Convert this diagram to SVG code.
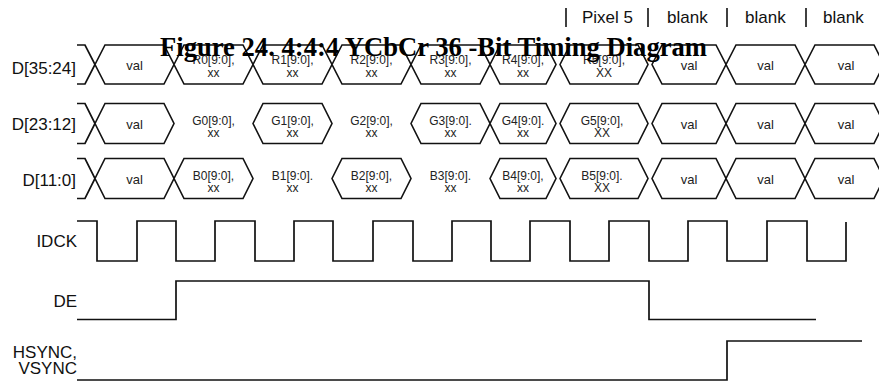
<svg xmlns="http://www.w3.org/2000/svg" width="879" height="381" viewBox="0 0 879 381">
<style>
.w{fill:none;stroke:#111;stroke-width:1.7;stroke-linejoin:miter}
.hx{fill:#fff;stroke:#111;stroke-width:1.6}
.lb{font-family:"Liberation Sans",Arial,sans-serif;font-size:17px;fill:#111;text-anchor:end}
.d{font-family:"Liberation Sans",Arial,sans-serif;font-size:12px;fill:#222;text-anchor:middle}
.v{font-family:"Liberation Sans",Arial,sans-serif;font-size:13px;fill:#222;text-anchor:middle}
.hd{font-family:"Liberation Sans",Arial,sans-serif;font-size:17px;fill:#111}
.bar{stroke:#111;stroke-width:1.6}
.ttl{font-family:"Liberation Serif","Times New Roman",serif;font-size:26.5px;font-weight:bold;fill:#000}
</style>

<g id="header">
<line class="bar" x1="566" y1="8" x2="566" y2="27"/>
<line class="bar" x1="648" y1="8" x2="648" y2="27"/>
<line class="bar" x1="727" y1="8" x2="727" y2="27"/>
<line class="bar" x1="806" y1="8" x2="806" y2="27"/>
<text class="hd" x="582" y="22.5">Pixel 5</text>
<text class="hd" x="667" y="22.5">blank</text>
<text class="hd" x="745" y="22.5">blank</text>
<text class="hd" x="823" y="22.5">blank</text>
</g>

<g id="d35_24">
<text class="lb" x="76" y="74">D[35:24]</text>
<polyline class="w" points="77,45 85,45 95,64.5 85,84 77,84"/>
<path class="hx" d="M95,64.5 L105,45 L164,45 L174,64.5 L164,84 L105,84 Z"/>
<path class="hx" d="M174,64.5 L184,45 L243,45 L253,64.5 L243,84 L184,84 Z"/>
<path class="hx" d="M253,64.5 L263,45 L322,45 L332,64.5 L322,84 L263,84 Z"/>
<path class="hx" d="M332,64.5 L342,45 L401,45 L411,64.5 L401,84 L342,84 Z"/>
<path class="hx" d="M411,64.5 L421,45 L480,45 L490,64.5 L480,84 L421,84 Z"/>
<path class="hx" d="M490,64.5 L500,45 L546,45 L556,64.5 L546,84 L500,84 Z"/>
<path class="hx" d="M560,64.5 L570,45 L638,45 L648,64.5 L638,84 L570,84 Z"/>
<path class="hx" d="M652,64.5 L662,45 L716,45 L726,64.5 L716,84 L662,84 Z"/>
<path class="hx" d="M726,64.5 L736,45 L795,45 L805,64.5 L795,84 L736,84 Z"/>
<path class="hx" d="M805,64.5 L815,45 L874,45 L884,64.5 L874,84 L815,84 Z"/>
<text class="v" x="134.5" y="69.5">val</text>
<text class="d" x="213.5" y="64">R0[9:0],</text><text class="d" x="213.5" y="77">xx</text>
<text class="d" x="292.5" y="64">R1[9:0],</text><text class="d" x="292.5" y="77">xx</text>
<text class="d" x="371.5" y="64">R2[9:0],</text><text class="d" x="371.5" y="77">xx</text>
<text class="d" x="450.5" y="64">R3[9:0],</text><text class="d" x="450.5" y="77">xx</text>
<text class="d" x="523" y="64">R4[9:0],</text><text class="d" x="523" y="77">xx</text>
<text class="d" x="604" y="64">R5[9:0],</text><text class="d" x="604" y="77">XX</text>
<text class="v" x="689" y="69.5">val</text>
<text class="v" x="765.5" y="69.5">val</text>
<text class="v" x="846" y="69.5">val</text>
</g>

<g id="d23_12">
<text class="lb" x="76" y="130">D[23:12]</text>
<polyline class="w" points="77,103.5 85,103.5 95,123.5 85,143.5 77,143.5"/>
<path class="hx" d="M95,123.5 L105,103.5 L164,103.5 L174,123.5 L164,143.5 L105,143.5 Z"/>
<path class="hx" d="M253,123.5 L263,103.5 L322,103.5 L332,123.5 L322,143.5 L263,143.5 Z"/>
<path class="hx" d="M411,123.5 L421,103.5 L480,103.5 L490,123.5 L480,143.5 L421,143.5 Z"/>
<path class="hx" d="M490,123.5 L500,103.5 L546,103.5 L556,123.5 L546,143.5 L500,143.5 Z"/>
<path class="hx" d="M560,123.5 L570,103.5 L638,103.5 L648,123.5 L638,143.5 L570,143.5 Z"/>
<path class="hx" d="M652,123.5 L662,103.5 L716,103.5 L726,123.5 L716,143.5 L662,143.5 Z"/>
<path class="hx" d="M726,123.5 L736,103.5 L795,103.5 L805,123.5 L795,143.5 L736,143.5 Z"/>
<path class="hx" d="M805,123.5 L815,103.5 L874,103.5 L884,123.5 L874,143.5 L815,143.5 Z"/>
<text class="v" x="134.5" y="128.5">val</text>
<text class="d" x="213.5" y="124.5">G0[9:0],</text><text class="d" x="213.5" y="137">xx</text>
<text class="d" x="292.5" y="124.5">G1[9:0],</text><text class="d" x="292.5" y="137">xx</text>
<text class="d" x="371.5" y="124.5">G2[9:0],</text><text class="d" x="371.5" y="137">xx</text>
<text class="d" x="450.5" y="124.5">G3[9:0].</text><text class="d" x="450.5" y="137">xx</text>
<text class="d" x="523" y="124.5">G4[9:0].</text><text class="d" x="523" y="137">xx</text>
<text class="d" x="602" y="124.5">G5[9:0],</text><text class="d" x="602" y="137">XX</text>
<text class="v" x="689" y="128.5">val</text>
<text class="v" x="765.5" y="128.5">val</text>
<text class="v" x="846" y="128.5">val</text>
</g>

<g id="d11_0">
<text class="lb" x="76" y="186">D[11:0]</text>
<polyline class="w" points="77,158.5 85,158.5 95,178.5 85,198.5 77,198.5"/>
<path class="hx" d="M95,178.5 L105,158.5 L164,158.5 L174,178.5 L164,198.5 L105,198.5 Z"/>
<path class="hx" d="M174,178.5 L184,158.5 L243,158.5 L253,178.5 L243,198.5 L184,198.5 Z"/>
<path class="hx" d="M332,178.5 L342,158.5 L401,158.5 L411,178.5 L401,198.5 L342,198.5 Z"/>
<path class="hx" d="M490,178.5 L500,158.5 L546,158.5 L556,178.5 L546,198.5 L500,198.5 Z"/>
<path class="hx" d="M560,178.5 L570,158.5 L638,158.5 L648,178.5 L638,198.5 L570,198.5 Z"/>
<path class="hx" d="M652,178.5 L662,158.5 L716,158.5 L726,178.5 L716,198.5 L662,198.5 Z"/>
<path class="hx" d="M726,178.5 L736,158.5 L795,158.5 L805,178.5 L795,198.5 L736,198.5 Z"/>
<path class="hx" d="M805,178.5 L815,158.5 L874,158.5 L884,178.5 L874,198.5 L815,198.5 Z"/>
<text class="v" x="134.5" y="183.5">val</text>
<text class="d" x="213.5" y="179.5">B0[9:0],</text><text class="d" x="213.5" y="192">xx</text>
<text class="d" x="292.5" y="179.5">B1[9:0].</text><text class="d" x="292.5" y="192">xx</text>
<text class="d" x="371.5" y="179.5">B2[9:0],</text><text class="d" x="371.5" y="192">xx</text>
<text class="d" x="450.5" y="179.5">B3[9:0].</text><text class="d" x="450.5" y="192">xx</text>
<text class="d" x="523" y="179.5">B4[9:0],</text><text class="d" x="523" y="192">xx</text>
<text class="d" x="602" y="179.5">B5[9:0].</text><text class="d" x="602" y="192">XX</text>
<text class="v" x="689" y="183.5">val</text>
<text class="v" x="765.5" y="183.5">val</text>
<text class="v" x="846" y="183.5">val</text>
</g>

<g id="idck">
<text class="lb" x="77" y="247">IDCK</text>
<path class="w" d="M77,221 H97 V261 H137 V221 H176 V261 H215 V221 H255 V261 H294 V221 H333 V261 H373 V221 H413 V261 H452 V221 H491 V261 H530 V221 H570 V261 H609 V221 H649 V261 H688 V221 H727 V261 H767 V221 H807 V261 H846 V222"/>
</g>

<g id="de">
<text class="lb" x="77" y="307">DE</text>
<path class="w" d="M77,319.5 H176 V281 H649 V319.5 H816"/>
</g>

<g id="hsync_vsync">
<text class="lb" x="77" y="358">HSYNC,</text>
<text class="lb" x="77" y="374">VSYNC</text>
<path class="w" d="M77,380 H727 V341 H862"/>
</g>

<g id="title">
<text class="ttl" x="160" y="56" textLength="547" lengthAdjust="spacingAndGlyphs">Figure 24. 4:4:4 YCbCr 36 -Bit Timing Diagram</text>
</g>
</svg>
